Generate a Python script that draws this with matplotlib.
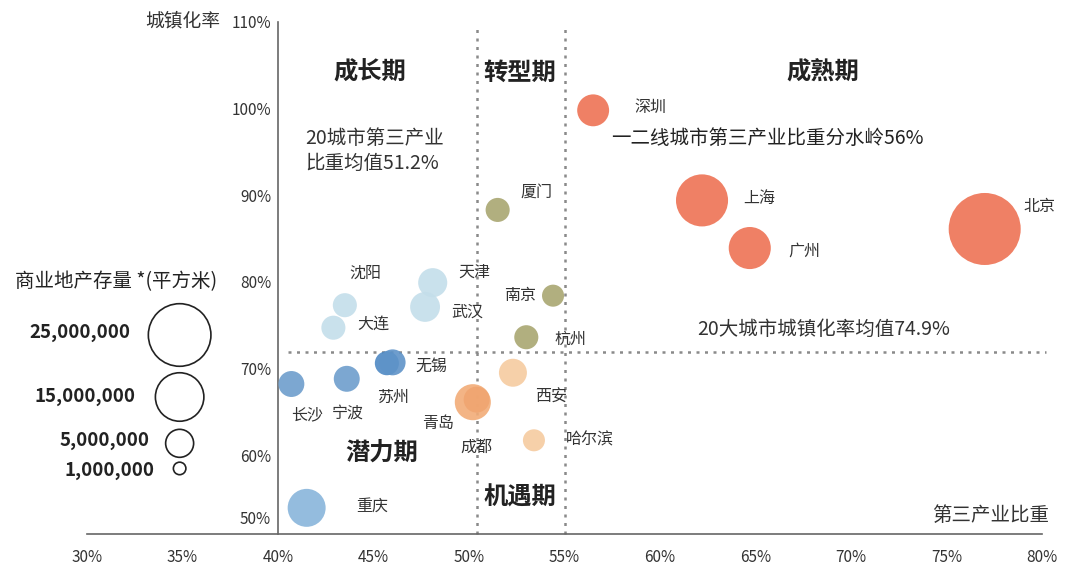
import matplotlib
matplotlib.use("Agg")
import matplotlib.pyplot as plt
import numpy as np

plt.rcParams['font.family'] = ['Noto Sans CJK SC', 'DejaVu Sans']

# city data: tertiary industry share (%), urbanisation rate (%), commercial stock (m2)
cities = ["深圳", "上海", "广州", "北京", "厦门", "南京", "杭州", "天津", "武汉", "沈阳",
          "大连", "无锡", "苏州", "长沙", "宁波", "青岛", "成都", "西安", "哈尔滨", "重庆"]
tertiary = [56.5, 62.2, 64.7, 77.0, 51.5, 54.4, 53.0, 48.1, 47.7, 43.5,
            42.9, 45.7, 46.0, 40.7, 43.6, 50.2, 50.4, 52.3, 53.4, 41.5]
urban = [99.8, 89.4, 83.9, 86.1, 88.3, 78.4, 73.6, 79.9, 77.1, 77.3,
         74.7, 70.6, 70.7, 68.2, 68.8, 66.1, 66.4, 69.5, 61.7, 53.9]
stock = [6.5e6, 17.3e6, 11.3e6, 33.1e6, 3.7e6, 3.1e6, 3.7e6, 5.4e6, 5.7e6, 3.7e6,
         3.7e6, 3.7e6, 4.3e6, 4.3e6, 4.3e6, 8.3e6, 4.3e6, 5.0e6, 3.1e6, 9.2e6]
colors = ["#EE7254", "#EE7254", "#EE7254", "#EE7254", "#A9A671", "#A9A671", "#A9A671",
          "#C4DEEA", "#C4DEEA", "#C4DEEA", "#C4DEEA", "#4F89C4", "#5E93C8", "#6E9ECC",
          "#6E9ECC", "#F2AC78", "#F0A570", "#F6CBA0", "#F6CBA0", "#88B5DB"]
# label offsets in pixels relative to bubble centre
label_dx = [57, 57, 55, 55, 39, -33, 44, 42, 42, 20, 40, 44, 0, 16, 1, -35, 0, 38, 56, 66]
label_dy = [3, 2, -3, 22, 18, 0, -2, 10, -5, 32, 4, -3, -35, -31, -34, -21, -48, -24, 0, 2]

legend_values = [25e6, 15e6, 5e6, 1e6]
legend_labels = ["25,000,000", "15,000,000", "5,000,000", "1,000,000"]

x_ticks = [30, 35, 40, 45, 50, 55, 60, 65, 70, 75, 80]
y_ticks = [60, 70, 80, 90, 100, 110]

avg_tertiary = 50.4
split_tertiary = 55.0
avg_urban = 71.9

W, H = 1067, 565
fig = plt.figure(figsize=(W / 100, H / 100), dpi=100)
ax = fig.add_axes([87 / W, 31 / H, 955 / W, 512 / H])
ax.set_xlim(30, 80)
ax.set_ylim(50.88, 110)


def size(v):
    # marker area in points^2, area proportional to stock
    return 2031 * np.asarray(v) / 25e6


ax.scatter(tertiary, urban, s=size(stock), c=colors, alpha=0.9, linewidths=0, zorder=3)
for name, x, y, dx, dy in zip(cities, tertiary, urban, label_dx, label_dy):
    ax.annotate(name, (x, y), xytext=(dx, dy), textcoords="offset pixels",
                ha="center", va="center", fontsize=11.5, color="#333333", zorder=4)

# dotted reference lines
dot = dict(color="#8a8a8a", linestyle=(0, (1.2, 2.2)), linewidth=1.8, zorder=1, clip_on=False)
ax.plot([avg_tertiary, avg_tertiary], [50.88, 109.4], **dot)
ax.plot([split_tertiary, split_tertiary], [50.88, 109.4], **dot)
ax.plot([40.5, 80.2], [avg_urban, avg_urban], **dot)

# axes styling
for side in ["top", "right"]:
    ax.spines[side].set_visible(False)
ax.spines["left"].set_position(("data", 40))
ax.spines["left"].set_color("#666666")
ax.spines["bottom"].set_color("#666666")
ax.spines["left"].set_linewidth(1.2)
ax.spines["bottom"].set_linewidth(1.2)
ax.set_xticks(x_ticks, labels=[f"{t}%" for t in x_ticks])
ax.set_yticks([52.8] + y_ticks, labels=["50%"] + [f"{t}%" for t in y_ticks])
ax.tick_params(length=0, labelsize=11, colors="#333333")
ax.tick_params(axis="x", pad=11)
ax.tick_params(axis="y", pad=5)

# size legend
leg_x = 34.85
leg_y = [73.86, 66.7, 61.35, 58.45]
ax.scatter([leg_x] * 4, leg_y, s=size(legend_values), facecolors="none",
           edgecolors="#222222", linewidths=1.2, clip_on=False, zorder=3)
label_right = [130, 135, 150, 155]
label_py = [332, 397, 441, 470]
for lab, xr, py in zip(legend_labels, label_right, label_py):
    fig.text(xr / W, 1 - py / H, lab, ha="right", va="center", fontsize=13.5,
             fontweight="bold", color="#222222")
fig.text(116 / W, 1 - 282 / H, "商业地产存量 *(平方米)", ha="center", va="center",
         fontsize=14, color="#222222")

# axis titles
fig.text(183 / W, 1 - 21 / H, "城镇化率", ha="center", va="center", fontsize=13.5, color="#333333")
fig.text(991 / W, 1 - 515 / H, "第三产业比重", ha="center", va="center", fontsize=14,
         color="#333333")

# phase labels
phases = [("成长期", 370, 73), ("转型期", 520, 73), ("成熟期", 823, 73),
          ("潜力期", 382, 453), ("机遇期", 520, 498)]
for txt, px, py in phases:
    fig.text(px / W, 1 - py / H, txt, ha="center", va="center", fontsize=17.5,
             fontweight="bold", color="#222222")

# notes
fig.text(305 / W, 1 - 151 / H, "20城市第三产业\n比重均值51.2%", ha="left", va="center",
         fontsize=14, color="#333333", linespacing=1.2)
fig.text(767 / W, 1 - 138 / H, "一二线城市第三产业比重分水岭56%", ha="center", va="center",
         fontsize=14, color="#222222")
fig.text(824 / W, 1 - 329 / H, "20大城市城镇化率均值74.9%", ha="center", va="center",
         fontsize=14, color="#333333")

fig.savefig("out.png", dpi=100)
